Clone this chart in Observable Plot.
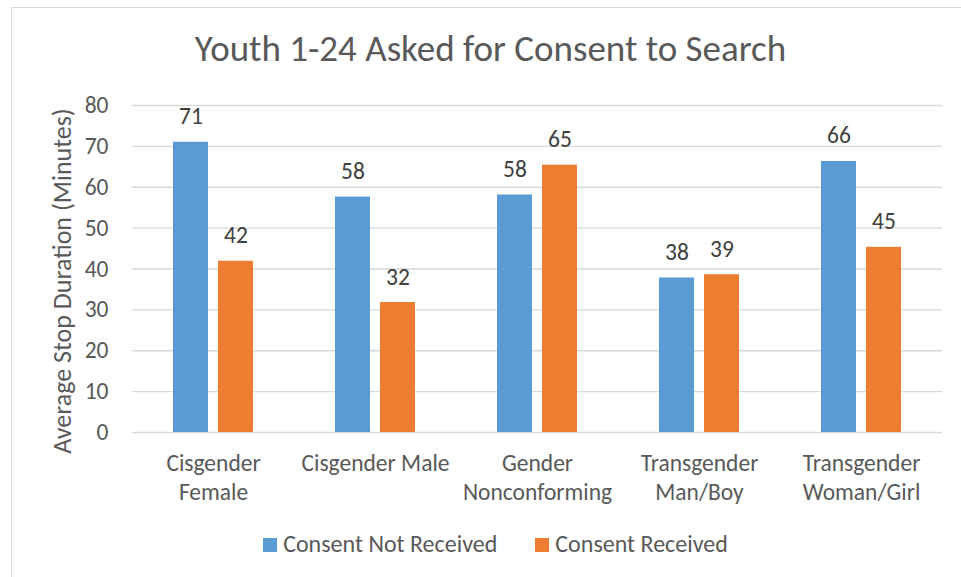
<!DOCTYPE html>
<html><head><meta charset="utf-8">
<script src="https://cdn.jsdelivr.net/npm/d3@7"></script>
<script src="https://cdn.jsdelivr.net/npm/@observablehq/plot@0.6"></script>
<style>
body{margin:0;background:#fff;font-family:Calibri,Carlito,Lato,sans-serif;}
#wrap{position:relative;width:961px;height:577px;overflow:hidden;background:#fff;}
#frame{position:absolute;left:11px;top:7px;width:1000px;height:620px;border:1px solid #d9d9d9;box-sizing:border-box;}
#title{position:absolute;left:0;width:981px;top:29.5px;text-align:center;font-size:37px;color:#595959;line-height:1;white-space:nowrap;}
#chart{position:absolute;left:0;top:0;}
#ylabel{position:absolute;left:62px;top:281px;transform:translate(-50%,-50%) rotate(-90deg);font-size:26px;color:#595959;white-space:nowrap;line-height:1;}
#legend{position:absolute;top:532px;left:0;width:991px;display:flex;justify-content:center;gap:38px;font-size:24px;color:#595959;line-height:24px;}
#legend .item{display:flex;align-items:flex-start;}
#legend .sw{width:14px;height:14px;margin-right:6px;margin-top:6px;}
</style></head>
<body>
<div id="wrap">
  <div id="frame"></div>
  <div id="title">Youth 1-24 Asked for Consent to Search</div>
  <div id="chart"></div>
  <div id="ylabel">Average Stop Duration (Minutes)</div>
  <div id="legend"></div>
</div>
<script>
const categories = ["Cisgender Female", "Cisgender Male", "Gender Nonconforming", "Transgender Man/Boy", "Transgender Woman/Girl"];
const categoryLines = ["Cisgender\nFemale", "Cisgender Male", "Gender\nNonconforming", "Transgender\nMan/Boy", "Transgender\nWoman/Girl"];
const seriesNames = ["Consent Not Received", "Consent Received"];
const seriesColors = ["#5B9BD5", "#ED7D31"];
const consentNotReceived = [71.0, 57.6, 58.1, 37.8, 66.3];
const consentReceived = [41.9, 31.8, 65.4, 38.6, 45.3];
const yTicks = [0, 10, 20, 30, 40, 50, 60, 70, 80];

const data = [];
categories.forEach((c, i) => {
  data.push({cat: c, series: seriesNames[0], value: consentNotReceived[i]});
  data.push({cat: c, series: seriesNames[1], value: consentReceived[i]});
});
const lineMap = new Map(categories.map((c, i) => [c, categoryLines[i]]));

const chart = Plot.plot({
  width: 961,
  height: 577,
  marginLeft: 132,
  marginRight: 19,
  marginTop: 105,
  marginBottom: 145,
  style: {fontFamily: "Calibri, Carlito, Lato, sans-serif", fontSize: "23.5px", color: "#595959", background: "transparent"},
  fx: {domain: categories, paddingInner: 0, paddingOuter: 0, axis: null},
  x: {domain: seriesNames, paddingInner: 0.217, paddingOuter: 0.87, axis: null},
  y: {domain: [0, 80], axis: null},
  color: {domain: seriesNames, range: seriesColors},
  marks: [
    Plot.gridY(yTicks, {stroke: "#d9d9d9", strokeOpacity: 1, strokeWidth: 1.3}),
    Plot.barY(data, {fx: "cat", x: "series", y: "value", fill: "series"}),
    Plot.text(data, {fx: "cat", x: "series", y: "value", text: d => String(Math.round(d.value)), lineAnchor: "bottom", dy: -18, fill: "#404040", fontSize: 23.5}),
    Plot.axisY(yTicks, {tickSize: 0, tickPadding: 24, fontSize: 23.5, fill: "#595959", label: null}),
    Plot.axisFx({anchor: "bottom", tickSize: 0, tickPadding: 17, fontSize: 23.5, fill: "#595959", tickFormat: d => lineMap.get(d), label: null, lineHeight: 1.26})
  ]
});
document.getElementById("chart").appendChild(chart);

const legend = document.getElementById("legend");
seriesNames.forEach((s, i) => {
  const item = document.createElement("div");
  item.className = "item";
  const sw = document.createElement("div");
  sw.className = "sw";
  sw.style.background = seriesColors[i];
  const t = document.createElement("span");
  t.textContent = s;
  item.appendChild(sw);
  item.appendChild(t);
  legend.appendChild(item);
});
</script>
</body></html>
